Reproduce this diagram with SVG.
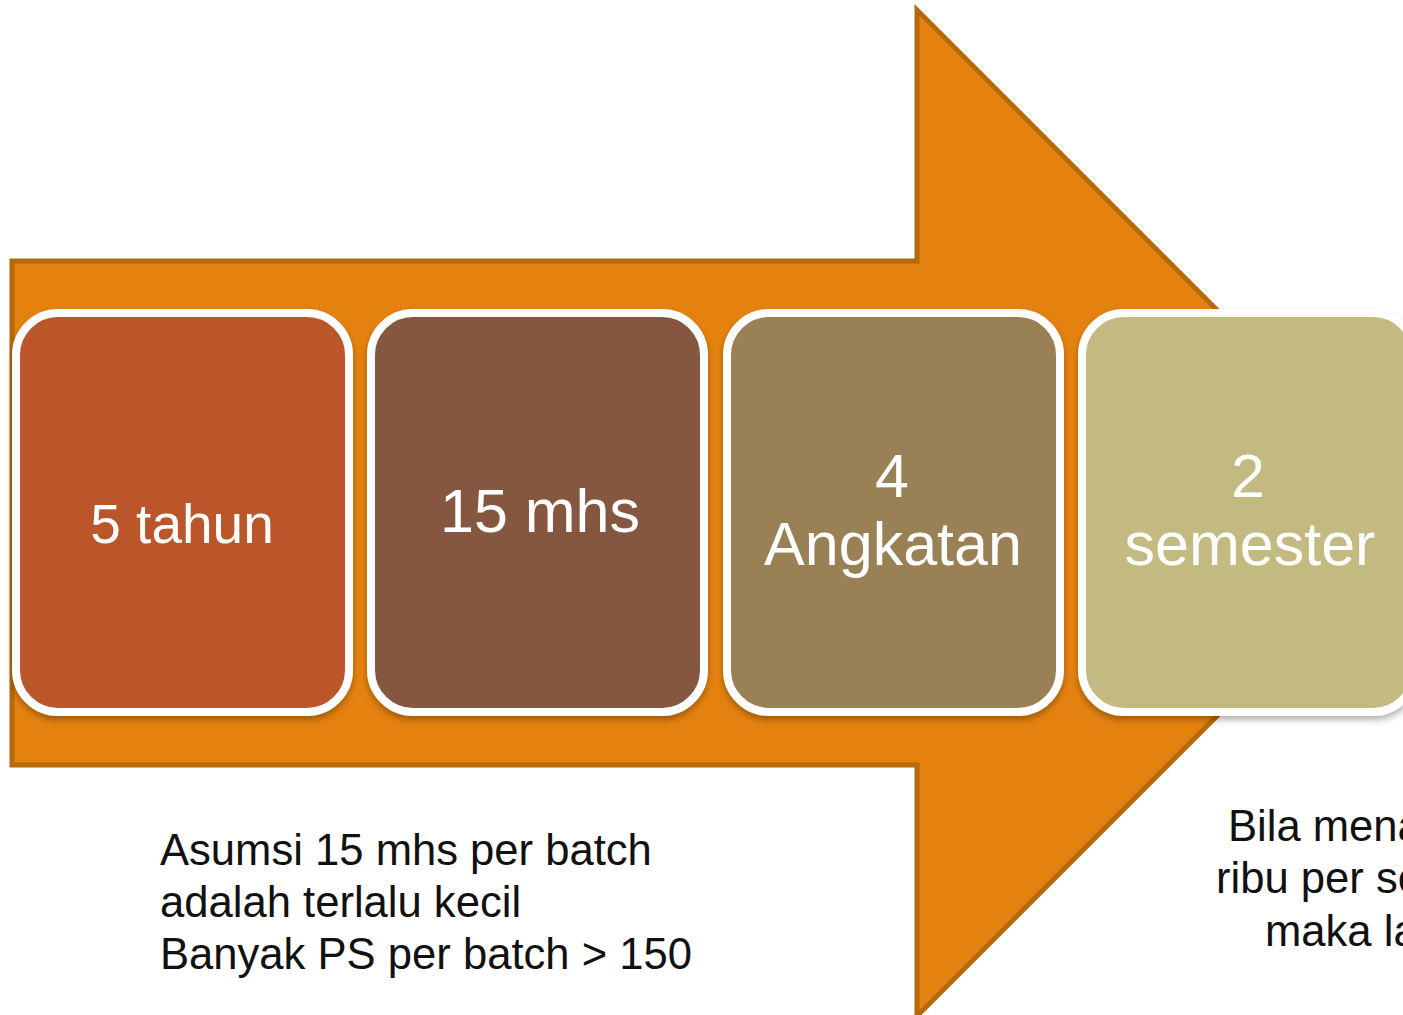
<svg xmlns="http://www.w3.org/2000/svg" width="1403" height="1015" viewBox="0 0 1403 1015">
<defs>
<filter id="sh" x="-10%" y="-10%" width="120%" height="125%">
<feDropShadow dx="0" dy="4" stdDeviation="3" flood-color="#000" flood-opacity="0.3"/>
</filter>
<style>
.box{stroke:#FFFFFF;stroke-width:8;filter:url(#sh)}
.lbl{font-family:"Liberation Sans",Arial,sans-serif;fill:#FFFFFF;text-anchor:middle;font-size:61px}
.note{font-family:"Liberation Sans",Arial,sans-serif;fill:#111111;font-size:43.6px}
</style>
</defs>
<rect width="1403" height="1015" fill="#FFFFFF"/>
<g id="arrow">
<path d="M12,261 H917 V10 L1420,513 L917,1016 V765 H12 Z" fill="#E4820F" stroke="#B4690C" stroke-width="5" stroke-linejoin="miter"/>
</g>
<g id="connectors"></g>
<g id="node1">
<rect class="box" x="16" y="313" width="333" height="399" rx="42" fill="#BA572B"/>
<text class="lbl" x="182" y="543" style="font-size:55px">5 tahun</text>
</g>
<g id="node2">
<rect class="box" x="371" y="313" width="333" height="399" rx="42" fill="#855740"/>
<text class="lbl" x="540" y="532">15 mhs</text>
</g>
<g id="node3">
<rect class="box" x="727" y="313" width="333" height="399" rx="42" fill="#9A8055"/>
<text class="lbl" x="892" y="497">4</text>
<text class="lbl" x="893" y="565">Angkatan</text>
</g>
<g id="node4">
<rect class="box" x="1082" y="313" width="333" height="399" rx="42" fill="#C2BA80"/>
<text class="lbl" x="1248" y="497">2</text>
<text class="lbl" x="1250" y="565">semester</text>
</g>
<g id="note-left">
<text class="note" x="160" y="865">Asumsi 15 mhs per batch</text>
<text class="note" x="160" y="917">adalah terlalu kecil</text>
<text class="note" x="160" y="969">Banyak PS per batch &gt; 150</text>
</g>
<g id="note-right">
<text class="note" x="1228" y="841">Bila mena</text>
<text class="note" x="1216" y="893">ribu per se</text>
<text class="note" x="1265" y="946">maka la</text>
</g>
</svg>
